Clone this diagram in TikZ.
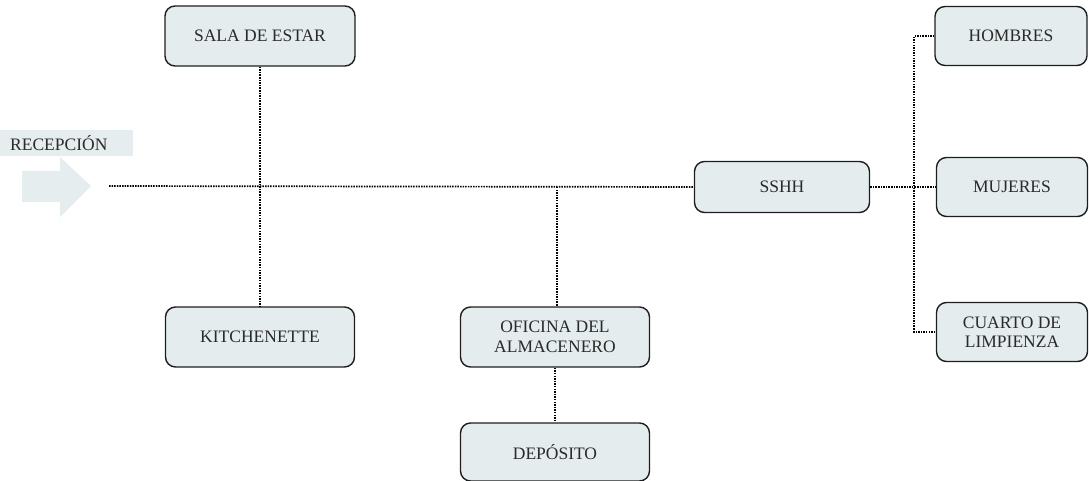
\documentclass[tikz,border=0pt]{standalone}
\usepackage{fontspec}
\setmainfont{Liberation Serif}
\usetikzlibrary{positioning}

\definecolor{boxfill}{HTML}{E4ECEE}
\definecolor{boxline}{HTML}{1E1E1E}
\definecolor{txtgray}{HTML}{2A2A2A}
\definecolor{recfill}{HTML}{E6EDEF}

\tikzset{
  room/.style={draw=boxline, fill=boxfill, line width=1.4pt, rounded corners=10pt,
    minimum width=189pt, minimum height=60pt, align=center, text=txtgray,
    font=\fontsize{17.5}{19.5}\selectfont, inner sep=2pt},
  link/.style={draw=black, line width=1.7pt, dash pattern=on 1.5pt off 1.1pt}
}

\begin{document}
\begin{tikzpicture}[x=1pt, y=-1pt]
    \useasboundingbox (0,0) rectangle (1089,481);

    % Recepcion label and arrow
    \fill[recfill] (0,130) rectangle (133,156);
    \path (10,143) node[anchor=west, inner sep=0pt, text=txtgray, font=\fontsize{17.5}{19}\selectfont] (recep) {RECEPCIÓN};
    \fill[recfill] (22,171) -- (60,171) -- (60,157) -- (91,186) -- (60,217) -- (60,202) -- (22,202) -- cycle;
    \coordinate (start) at (109,186);

    % Rooms
    \path (260,36) node[room, minimum width=190pt] (sala) {SALA DE ESTAR};
    \path (260,337) node[room] (kitch) {KITCHENETTE};
    \path (555,337) node[room] (ofic) {OFICINA DEL\\ALMACENERO};
    \path (555,452) node[room, minimum height=58pt] (depo) {DEPÓSITO};
    \path (782,187) node[room, minimum width=175pt, minimum height=51pt] (sshh) {SSHH};
    \path (1011,36) node[room, minimum width=152pt, minimum height=59pt] (homb) {HOMBRES};
    \path (1012,187) node[room, minimum width=151pt, minimum height=59pt] (muje) {MUJERES};
    \path (1012,332) node[room, minimum width=151pt, minimum height=59pt] (cuar) {CUARTO DE\\LIMPIENZA};

    % Connectors
    \coordinate (jofic) at (557,187);
    \draw[link] (sala) -- (kitch);
    \draw[link] (start) -- (sshh.west);
    \draw[link] (jofic) -- (jofic |- ofic.north);
    \draw[link] (ofic) -- (depo);
    \draw[link] (sshh.east) -- (muje.west);
    \draw[link] (homb.west) -- ++(-20,0) |- (cuar.west);
\end{tikzpicture}
\end{document}
